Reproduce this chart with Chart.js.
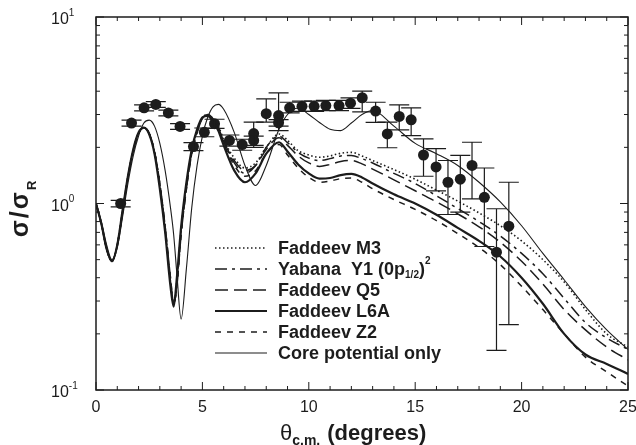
<!DOCTYPE html>
<html>
<head>
<meta charset="utf-8">
<script src="https://cdn.jsdelivr.net/npm/chart.js@4.4.0/dist/chart.umd.min.js"></script>
<style>
  body { margin: 0; background: #fff; }
  #wrap { width: 636px; height: 445px; }
</style>
</head>
<body>
<div id="wrap"><canvas id="chart" width="636" height="445"></canvas></div>
<script>
// angulos (graus c.m.) onde as curvas teoricas foram lidas
const thetaGrid = [0, 0.25, 0.5, 0.75, 1, 1.25, 1.5, 1.75, 2, 2.25, 2.5, 2.75, 3, 3.25, 3.5, 3.65, 3.8, 4, 4.25, 4.5, 4.75, 5, 5.25, 5.5, 5.75, 6, 6.5, 7, 7.5, 8, 8.6, 9, 9.5, 10, 10.5, 11, 11.5, 12, 12.5, 13, 14, 15, 16, 17, 18, 19, 20, 21, 22, 23, 24, 25];

// curvas teoricas sigma/sigma_R
const faddeevM3 = [1.0, 0.78, 0.57, 0.49, 0.6, 0.91, 1.39, 1.93, 2.39, 2.55, 2.37, 1.88, 1.25, 0.73, 0.38, 0.29, 0.38, 0.72, 1.25, 1.9, 2.45, 2.88, 3.0, 2.85, 2.6, 2.2, 1.75, 1.55, 1.65, 2.0, 2.36, 2.18, 1.92, 1.82, 1.77, 1.8, 1.86, 1.88, 1.8, 1.7, 1.52, 1.35, 1.18, 1.03, 0.89, 0.76, 0.63, 0.5, 0.38, 0.27, 0.2, 0.17];
const yabanaY1 = [1.0, 0.78, 0.57, 0.49, 0.6, 0.91, 1.39, 1.93, 2.39, 2.55, 2.37, 1.88, 1.25, 0.73, 0.38, 0.29, 0.38, 0.72, 1.25, 1.9, 2.45, 2.88, 2.98, 2.82, 2.55, 2.15, 1.65, 1.45, 1.6, 2.0, 2.3, 2.12, 1.88, 1.75, 1.7, 1.74, 1.8, 1.81, 1.74, 1.65, 1.45, 1.28, 1.1, 0.94, 0.8, 0.67, 0.54, 0.42, 0.31, 0.23, 0.19, 0.165];
const faddeevQ5 = [1.0, 0.78, 0.57, 0.49, 0.6, 0.9, 1.38, 1.92, 2.38, 2.55, 2.38, 1.9, 1.28, 0.75, 0.4, 0.29, 0.36, 0.68, 1.2, 1.85, 2.4, 2.85, 3.0, 2.85, 2.55, 2.15, 1.7, 1.5, 1.6, 1.95, 2.25, 2.05, 1.8, 1.65, 1.58, 1.62, 1.68, 1.7, 1.63, 1.53, 1.34, 1.17, 1.02, 0.88, 0.75, 0.62, 0.49, 0.37, 0.27, 0.21, 0.17, 0.145];
const faddeevL6A = [1.0, 0.78, 0.57, 0.49, 0.6, 0.92, 1.4, 1.95, 2.4, 2.55, 2.35, 1.85, 1.2, 0.7, 0.36, 0.28, 0.4, 0.75, 1.3, 1.95, 2.5, 2.9, 2.95, 2.75, 2.45, 2.05, 1.5, 1.3, 1.45, 1.85, 2.13, 1.9, 1.62, 1.45, 1.36, 1.37, 1.42, 1.44, 1.38, 1.28, 1.12, 1.0, 0.87, 0.74, 0.63, 0.52, 0.4, 0.29, 0.2, 0.155, 0.138, 0.122];
const faddeevZ2 = [1.0, 0.78, 0.57, 0.49, 0.6, 0.9, 1.38, 1.92, 2.38, 2.55, 2.38, 1.9, 1.28, 0.75, 0.4, 0.29, 0.36, 0.68, 1.2, 1.85, 2.4, 2.85, 3.0, 2.8, 2.5, 2.1, 1.6, 1.4, 1.5, 1.85, 2.07, 1.82, 1.55, 1.38, 1.3, 1.32, 1.36, 1.37, 1.3, 1.2, 1.05, 0.93, 0.81, 0.69, 0.58, 0.47, 0.36, 0.27, 0.2, 0.15, 0.125, 0.105];
const corePotential = [1.0, 0.8, 0.6, 0.5, 0.58, 0.85, 1.28, 1.8, 2.3, 2.7, 2.8, 2.6, 2.1, 1.5, 0.95, 0.68, 0.42, 0.24, 0.45, 0.95, 1.6, 2.3, 2.9, 3.3, 3.4, 3.2, 2.4, 1.6, 1.25, 1.6, 2.5, 3.0, 3.25, 3.0, 2.72, 2.5, 2.46, 2.7, 3.0, 3.15, 2.6, 2.1, 1.85, 1.6, 1.3, 1.02, 0.76, 0.54, 0.39, 0.28, 0.21, 0.165];

// pontos experimentais com barras de erro
const expTheta = [1.16, 1.67, 2.26, 2.81, 3.4, 3.95, 4.58, 5.09, 5.57, 6.27, 6.87, 7.41, 7.41, 8.0, 8.58, 8.58, 9.1, 9.68, 10.25, 10.8, 11.42, 11.96, 12.51, 13.14, 13.69, 14.25, 14.81, 15.39, 15.98, 16.54, 17.12, 17.67, 18.25, 18.82, 19.4];
const expRatio = [1.0, 2.7, 3.26, 3.4, 3.06, 2.59, 2.02, 2.41, 2.68, 2.18, 2.07, 2.37, 2.18, 3.03, 2.96, 2.71, 3.26, 3.32, 3.32, 3.35, 3.35, 3.45, 3.69, 3.13, 2.36, 2.93, 2.81, 1.82, 1.57, 1.3, 1.35, 1.6, 1.08, 0.548, 0.756];
const expLow = [0.96, 2.6, 3.14, 3.28, 2.95, 2.5, 1.92, 2.28, 2.53, 2.03, 1.93, 2.0, 2.05, 2.73, 2.46, 2.6, 3.06, 3.12, 3.12, 3.15, 3.15, 3.24, 3.1, 2.72, 1.99, 2.48, 2.31, 1.4, 1.17, 0.873, 0.898, 1.06, 0.588, 0.163, 0.224];
const expHigh = [1.04, 2.8, 3.38, 3.52, 3.17, 2.68, 2.12, 2.54, 2.83, 2.33, 2.21, 2.73, 2.3, 3.64, 3.92, 2.82, 3.49, 3.54, 3.54, 3.57, 3.57, 3.68, 4.0, 3.49, 2.73, 3.38, 3.26, 2.22, 1.97, 1.7, 1.81, 2.13, 1.55, 0.937, 1.3];

// rotulos
const curveLabels = ['Faddeev M3', 'Yabana  Y1', 'Faddeev Q5', 'Faddeev L6A', 'Faddeev Z2', 'Core potential only'];
const xTickLabels = [0, 5, 10, 15, 20, 25];
const yTickDecades = [0.1, 1, 10];
const yTickExponents = ['-1', '0', '1'];

const INK = '#1c1c1c';
const FONT = '"Liberation Sans", Arial, sans-serif';

// estilo de cada curva (mesma ordem de curveLabels)
const curveStyles = [
    { width: 1.6, dash: [1.5, 2.5] },
    { width: 1.5, dash: [12, 5, 3, 5] },
    { width: 1.5, dash: [13, 6] },
    { width: 2.2, dash: [] },
    { width: 1.5, dash: [6, 6] },
    { width: 1.1, dash: [] }
];
const curveValues = [faddeevM3, yabanaY1, faddeevQ5, faddeevL6A, faddeevZ2, corePotential];

function toPoints(ys) {
    return thetaGrid.map((x, i) => ({ x: x, y: ys[i] }));
}

// desenhar texto com sub/sobrescritos
function richText(ctx, parts, x, y) {
    let cx = x;
    parts.forEach(p => {
        ctx.font = (p.bold ? 'bold ' : '') + p.size + 'px ' + FONT;
        ctx.fillText(p.t, cx, y + (p.dy || 0));
        cx += ctx.measureText(p.t).width + (p.gap || 0);
    });
    return cx;
}

function richWidth(ctx, parts) {
    let w = 0;
    parts.forEach(p => {
        ctx.font = (p.bold ? 'bold ' : '') + p.size + 'px ' + FONT;
        w += ctx.measureText(p.t).width + (p.gap || 0);
    });
    return w;
}

// barras de erro dos pontos
const errorBars = {
    id: 'errorBars',
    afterDatasetsDraw(chart) {
        const { ctx, scales: { x, y } } = chart;
        ctx.save();
        ctx.strokeStyle = INK;
        ctx.lineWidth = 1.2;
        ctx.setLineDash([]);
        expTheta.forEach((t, i) => {
            const px = x.getPixelForValue(t);
            const lo = y.getPixelForValue(expLow[i]);
            const hi = y.getPixelForValue(expHigh[i]);
            ctx.beginPath();
            ctx.moveTo(px, lo); ctx.lineTo(px, hi);
            ctx.moveTo(px - 10, lo); ctx.lineTo(px + 10, lo);
            ctx.moveTo(px - 10, hi); ctx.lineTo(px + 10, hi);
            ctx.stroke();
        });
        ctx.restore();
    }
};

// moldura, ticks para dentro, rotulos e legenda
const frame = {
    id: 'frame',
    afterDraw(chart) {
        const { ctx, chartArea: a, scales: { x, y } } = chart;
        ctx.save();
        ctx.strokeStyle = INK;
        ctx.fillStyle = INK;
        ctx.setLineDash([]);
        ctx.lineWidth = 1.5;
        ctx.strokeRect(a.left, a.top, a.right - a.left, a.bottom - a.top);

        ctx.lineWidth = 1;
        ctx.beginPath();
        for (let v = 0; v <= 25; v++) {
            const px = x.getPixelForValue(v);
            const len = v % 5 === 0 ? 8 : 4;
            ctx.moveTo(px, a.bottom); ctx.lineTo(px, a.bottom - len);
            ctx.moveTo(px, a.top); ctx.lineTo(px, a.top + len);
        }
        [0.1, 1].forEach(d => {
            for (let m = 1; m <= 10; m++) {
                const py = y.getPixelForValue(d * m);
                const len = (m === 1 || m === 10) ? 8 : 4;
                ctx.moveTo(a.left, py); ctx.lineTo(a.left + len, py);
                ctx.moveTo(a.right, py); ctx.lineTo(a.right - len, py);
            }
        });
        ctx.stroke();

        // rotulos do eixo x
        ctx.font = '16px ' + FONT;
        ctx.textAlign = 'center';
        ctx.textBaseline = 'middle';
        xTickLabels.forEach(v => ctx.fillText(String(v), x.getPixelForValue(v), a.bottom + 18));

        // rotulos do eixo y (10^n)
        ctx.textAlign = 'left';
        yTickDecades.forEach((d, i) => {
            const py = y.getPixelForValue(d) + 3;
            richText(ctx, [
                { t: '10', size: 16 },
                { t: yTickExponents[i], size: 10, dy: -7 }
            ], 51, py);
        });

        // titulo do eixo x
        ctx.textBaseline = 'alphabetic';
        richText(ctx, [
            { t: 'θ', size: 22 },
            { t: 'c.m.', size: 14, dy: 5, bold: true, gap: 7 },
            { t: '(degrees)', size: 22, bold: true }
        ], 280, 440);

        // titulo do eixo y
        ctx.save();
        ctx.translate(28, 209);
        ctx.rotate(-Math.PI / 2);
        const yTitle = [
            { t: 'σ', size: 25, bold: true, gap: 2 },
            { t: '/', size: 25, bold: true, gap: 2 },
            { t: 'σ', size: 25, bold: true, gap: 2 },
            { t: 'R', size: 13, bold: true, dy: 8 }
        ];
        const yw = richWidth(ctx, yTitle);
        richText(ctx, yTitle, -yw / 2, 0);
        ctx.restore();

        // legenda
        const rows = [248, 269, 290, 311, 332, 353];
        curveLabels.forEach((lab, i) => {
            const st = curveStyles[i];
            ctx.lineWidth = st.width;
            ctx.setLineDash(st.dash);
            ctx.beginPath();
            ctx.moveTo(215, rows[i]);
            ctx.lineTo(267, rows[i]);
            ctx.stroke();
            ctx.setLineDash([]);
            ctx.textBaseline = 'middle';
            if (i === 1) {
                richText(ctx, [
                    { t: lab + ' (0p', size: 18, bold: true },
                    { t: '1/2', size: 10, bold: true, dy: 5 },
                    { t: ')', size: 18, bold: true },
                    { t: '2', size: 10, bold: true, dy: -9 }
                ], 278, rows[i] + 1);
            } else {
                richText(ctx, [{ t: lab, size: 18, bold: true }], 278, rows[i] + 1);
            }
        });
        ctx.restore();
    }
};

const datasets = curveValues.map((vals, i) => ({
    label: curveLabels[i],
    data: toPoints(vals),
    borderColor: INK,
    borderWidth: curveStyles[i].width,
    borderDash: curveStyles[i].dash,
    pointRadius: 0,
    fill: false,
    cubicInterpolationMode: 'monotone'
}));

datasets.push({
    label: 'data',
    data: expTheta.map((t, i) => ({ x: t, y: expRatio[i] })),
    showLine: false,
    pointRadius: 5.5,
    pointBackgroundColor: INK,
    pointBorderColor: INK,
    borderWidth: 0
});

new Chart(document.getElementById('chart'), {
    type: 'line',
    data: { datasets: datasets },
    options: {
        responsive: false,
        animation: false,
        devicePixelRatio: 1,
        layout: { padding: { left: 96, right: 8, top: 17, bottom: 55 } },
        plugins: {
            legend: { display: false },
            tooltip: { enabled: false }
        },
        scales: {
            x: { type: 'linear', min: 0, max: 25, display: false },
            y: { type: 'logarithmic', min: 0.1, max: 10, display: false }
        }
    },
    plugins: [errorBars, frame]
});
</script>
</body>
</html>
